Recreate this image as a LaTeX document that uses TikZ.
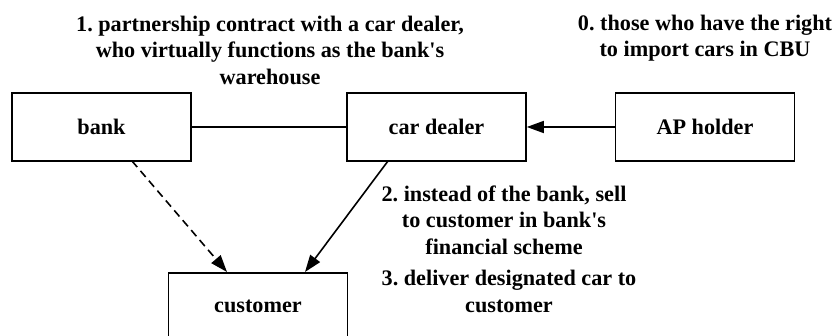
\documentclass[tikz,border=0pt]{standalone}
\usepackage{fontspec}
\setmainfont{Liberation Serif}
\frenchspacing
\usetikzlibrary{arrows.meta}
\begin{document}
\begin{tikzpicture}[x=1pt,y=-1pt,
  every node/.style={font=\fontsize{22.2}{26.5}\selectfont\bfseries},
  entity/.style={draw, line width=1.6pt, minimum width=179pt, minimum height=68pt, inner sep=0pt},
  note/.style={align=center, inner sep=0pt},
  link/.style={line width=1.6pt},
  tip/.style={-{Triangle[length=17pt,width=12pt]}}]
  \useasboundingbox (0,0) rectangle (835,336);
  % actors
  \node[entity] (bank) at (101.5,127) {bank};
  \node[entity] (dealer) at (436.5,127) {car dealer};
  \node[entity] (ap) at (705,127) {AP holder};
  \node[entity, anchor=north] (cust) at (258,272) {customer};
  % connectors
  \draw[link] (bank) -- (dealer);
  \draw[link, tip] (ap) -- (dealer);
  \coordinate (dashstart) at (132,161);
  \coordinate (dashend) at (227,272);
  \draw[link, tip, dash pattern=on 8pt off 5pt] (dashstart) -- (dashend);
  \coordinate (dealerfoot) at (388,161);
  \coordinate (custtop) at (305,272);
  \draw[link, tip] (dealerfoot) -- (custtop);
  % annotations
  \node[note] (n1) at (270,50) {1. partnership contract with a car dealer,\\who virtually functions as the bank\textquotesingle s\\warehouse};
  \node[note] (n0) at (705,38) {0. those who have the right\\to import cars in CBU};
  \node[note] (n2) at (504,220) {2. instead of the bank, sell\\to customer in bank\textquotesingle s\\financial scheme};
  \node[note] (n3) at (509,291.5) {3. deliver designated car to\\customer};
\end{tikzpicture}
\end{document}
